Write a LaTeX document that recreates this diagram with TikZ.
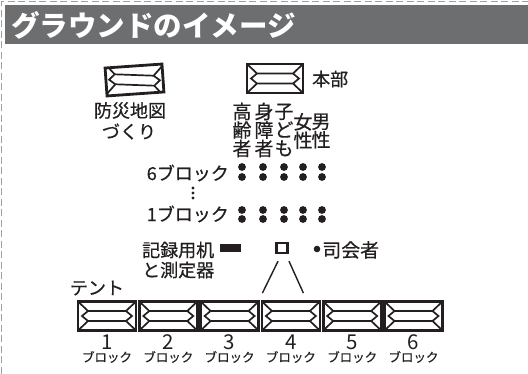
\documentclass[tikz,border=0pt]{standalone}
\usepackage{fontspec}
\setmainfont{Noto Sans CJK JP}
\newfontfamily\jpmed{Noto Sans CJK JP}[FakeBold=0.6]
\definecolor{ink}{HTML}{231F20}
\definecolor{bar}{HTML}{6D6E70}
\definecolor{dashgrey}{HTML}{A0A0A0}
\tikzset{
  tent/.style={draw=ink, line width=2.8pt, minimum width=58pt, minimum height=29pt, inner sep=0pt,
    path picture={
      \draw[line width=1.7pt, draw=ink]
        (path picture bounding box.north west) -- ([shift={(10pt,5pt)}]path picture bounding box.west)
          -- ([shift={(-10pt,5pt)}]path picture bounding box.east) -- (path picture bounding box.north east)
        (path picture bounding box.south west) -- ([shift={(10pt,-5pt)}]path picture bounding box.west)
          -- ([shift={(-10pt,-5pt)}]path picture bounding box.east) -- (path picture bounding box.south east)
        ([shift={(10pt,5pt)}]path picture bounding box.west) -- ([xshift=4pt]path picture bounding box.west)
          -- ([shift={(10pt,-5pt)}]path picture bounding box.west)
        ([shift={(-10pt,5pt)}]path picture bounding box.east) -- ([xshift=-4pt]path picture bounding box.east)
          -- ([shift={(-10pt,-5pt)}]path picture bounding box.east);
    }},
  lbl/.style={text=ink, inner sep=0pt, font=\jpmed\fontsize{18}{18}\selectfont},
  coltxt/.style={text=ink, inner sep=0pt, align=center, font=\jpmed\fontsize{19}{18.5}\selectfont},
  num/.style={text=ink, inner sep=0pt, font=\fontsize{20.5}{20.5}\selectfont},
  blk/.style={text=ink, inner sep=0pt, font=\jpmed\fontsize{12.5}{12.5}\selectfont},
  seat/.style={circle, fill=ink, inner sep=0pt, minimum size=7.8pt},
  vdot/.style={circle, fill=ink, inner sep=0pt, minimum size=3.4pt},
  link/.style={draw=ink, line width=1.4pt}
}
\begin{document}
\begin{tikzpicture}[x=1pt,y=-1pt]
\useasboundingbox (0,0) rectangle (528,374);
% frame
\draw[dashgrey, line width=1pt, dash pattern=on 7pt off 3.5pt] (1.5,374) -- (1.5,2) -- (528,2);
\fill[bar] (5,5) rectangle (528,44);
\node[anchor=west, text=white, inner sep=0pt, font=\fontsize{28.5}{28.5}\selectfont\bfseries] (title) at (11,25) {グラウンドのイメージ};

% top tents
\node[tent, minimum width=57pt, minimum height=28pt, rotate=4] (map) at (134.5,80) {};
\node[lbl] (maplbl1) at (130,110.5) {防災地図};
\node[lbl] (maplbl2) at (129,131.5) {づくり};
\node[tent, minimum width=56pt, minimum height=29pt] (hq) at (275,78.5) {};
\node[lbl, anchor=west] (hqlbl) at (312,79) {本部};

% groups
\node[coltxt] (c1) at (242,130) {高\\齢\\者};
\node[coltxt] (c2) at (264,130) {身\\障\\者};
\node[coltxt] (c3) at (284,130) {子\\ど\\も};
\node[coltxt] (c4) at (303,131) {女\\性};
\node[coltxt] (c5) at (321,131) {男\\性};

\node[lbl, anchor=east] (b6) at (229,173) {6ブロック};
\node[lbl, anchor=east] (b1) at (229,214) {1ブロック};
\foreach \x [count=\i] in {242,263,284,303,322}{
  \node[seat] (s6a\i) at (\x,167) {};
  \node[seat] (s6b\i) at (\x,177) {};
  \node[seat] (s1a\i) at (\x,210) {};
  \node[seat] (s1b\i) at (\x,219) {};
}
\node[vdot] (v1) at (193,188) {};
\node[vdot] (v2) at (193,193) {};
\node[vdot] (v3) at (193,198) {};

% desk, podium, MC
\node[lbl, anchor=west] (desk1) at (142,250) {記録用机};
\node[lbl, anchor=west] (desk2) at (142,270) {と測定器};
\node[fill=ink, minimum width=21pt, minimum height=8pt, inner sep=0pt] (desk) at (230,248.5) {};
\node[draw=ink, line width=2.4pt, minimum width=11pt, minimum height=10pt, inner sep=0pt] (podium) at (282,248) {};
\node[circle, fill=ink, inner sep=0pt, minimum size=6.6pt] (mc) at (317,249) {};
\node[lbl, anchor=west, font=\jpmed\fontsize{19}{19}\selectfont] (mclbl) at (322,250) {司会者};

% tents row
\node[lbl] (tentlbl) at (97,288) {テント};
\foreach \i in {1,...,6}{
  \pgfmathsetmacro{\cx}{107+61.3*(\i-1)}
  \node[tent] (t\i) at (\cx,316) {};
  \node[num] (n\i) at (\cx,342) {\i};
  \node[blk] (k\i) at (\cx,357) {ブロック};
}
\draw[link] ([shift={(-4pt,-7pt)}]podium.south) -- ([shift={(-28.5pt,7pt)}]t4.north);
\draw[link] ([shift={(7pt,-7pt)}]podium.south) -- ([shift={(12.5pt,7pt)}]t4.north);
\end{tikzpicture}
\end{document}
